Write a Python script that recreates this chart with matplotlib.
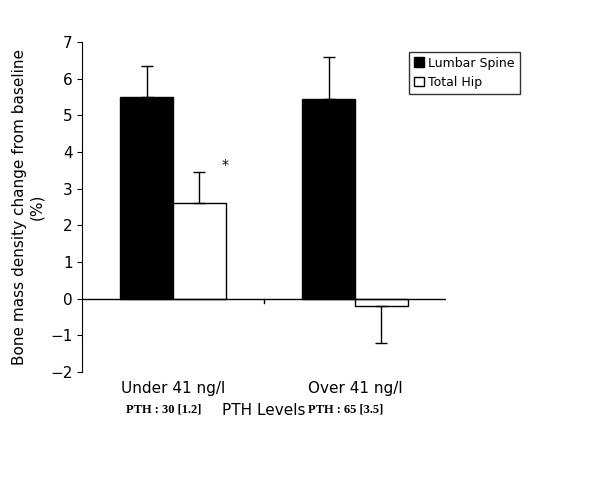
import matplotlib
matplotlib.use("Agg")
import matplotlib.pyplot as plt
import numpy as np

groups = ["Under 41 ng/l", "Over 41 ng/l"]
pth_labels = ["PTH : 30 [1.2]", "PTH : 65 [3.5]"]
series = ["Lumbar Spine", "Total Hip"]
lumbar = [5.5, 5.45]
lumbar_err = [0.85, 1.15]
hip = [2.6, -0.2]
hip_err = [0.85, 1.0]

fig = plt.figure(figsize=(6, 5), dpi=100)
ax = fig.add_axes([0.137, 0.256, 0.606, 0.66])
x = np.array([0.5, 1.5])
w = 0.29
ax.bar(x - w/2, lumbar, w, color="black", edgecolor="black", label=series[0])
ax.bar(x + w/2, hip, w, color="white", edgecolor="black", label=series[1])
for xi, v, e in zip(x - w/2, lumbar, lumbar_err):
    ax.errorbar(xi, v, yerr=[[0], [e]], color="black", capsize=4, lw=1)
for xi, v, e in zip(x + w/2, hip, hip_err):
    lo, hi = ([0], [e]) if v >= 0 else ([e], [0])
    ax.errorbar(xi, v, yerr=[lo, hi], color="black", capsize=4, lw=1)
ax.text(x[0] + w/2 + 0.14, hip[0] + hip_err[0] + 0.1, "*", ha="center", fontsize=10)

ax.set_xlim(0, 2)
ax.set_ylim(-2, 7)
ax.set_yticks(range(-2, 8))
ax.spines["top"].set_visible(False)
ax.spines["right"].set_visible(False)
ax.spines["bottom"].set_visible(False)
ax.axhline(0, color="black", lw=1)
ax.plot([1, 1], [0, -0.12], color="black", lw=1, clip_on=False)
ax.set_xticks([])
ax.tick_params(axis="y", direction="out", labelsize=11)
for xi, g in zip(x, groups):
    ax.text(xi, -2.25, g, ha="center", va="top", fontsize=11, transform=ax.transData)
for xi, p in zip(x, pth_labels):
    ax.text(xi - 0.05, -2.85, p, ha="center", va="top", fontsize=9,
            fontweight="bold", family="Liberation Serif")
ax.text(1.0, -2.85, "PTH Levels", ha="center", va="top", fontsize=11)
ax.set_ylabel("Bone mass density change from baseline\n(%)", fontsize=11)
leg = ax.legend(loc="upper right", bbox_to_anchor=(1.22, 0.99), frameon=True,
                fancybox=False, edgecolor="black", fontsize=9,
                handlelength=0.8, handleheight=0.8, handletextpad=0.3,
                borderpad=0.4, labelspacing=0.5)
leg.get_frame().set_linewidth(1)
fig.savefig("out.png", dpi=100)
